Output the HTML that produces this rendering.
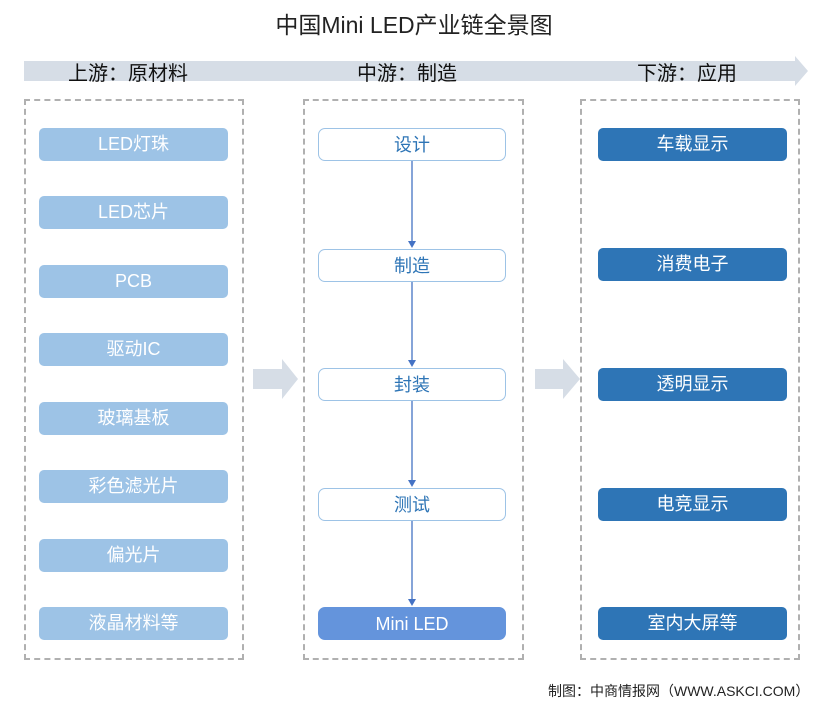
<!DOCTYPE html><html><head><meta charset="utf-8"><style>
body{margin:0;width:828px;height:716px;background:#fff;position:relative;overflow:hidden;font-family:"Liberation Sans","Noto Sans CJK SC",sans-serif}
.a{position:absolute}
.t{font-size:23px;color:#222;left:0;width:828px;text-align:center;top:6px}
.h{font-size:20px;color:#111;top:57px}
.box{border:2px dashed #b0b0b0;box-sizing:border-box}
.p{height:33px;line-height:33px;text-align:center;font-size:18px;border-radius:5px;box-sizing:border-box}
.l{left:39px;width:189px;background:#9dc3e6;color:#fff}
.m{left:318px;width:188px;border:1.5px solid #9dc3e6;color:#2e75b6;background:#fff;border-radius:7px}
.r{left:598px;width:189px;background:#2e75b6;color:#fff}
</style></head><body>
<svg class="a" style="left:0;top:0" width="828" height="716">
<polygon points="24,61 795,61 795,56 808,71 795,86 795,81 24,81" fill="#d6dde6"/>
<polygon points="253,369 282,369 282,359 298,379 282,399 282,389 253,389" fill="#d6dde6"/>
<polygon points="535,369 563,369 563,359 580,379 563,399 563,389 535,389" fill="#d6dde6"/>
<g stroke="#4472c4" stroke-width="1.3" fill="#4472c4">
<line x1="412" y1="161" x2="412" y2="241"/><polygon points="408,241 416,241 412,248" stroke="none"/>
<line x1="412" y1="282" x2="412" y2="360"/><polygon points="408,360 416,360 412,367" stroke="none"/>
<line x1="412" y1="401" x2="412" y2="480"/><polygon points="408,480 416,480 412,487" stroke="none"/>
<line x1="412" y1="521" x2="412" y2="599"/><polygon points="408,599 416,599 412,606" stroke="none"/>
</g></svg>
<div class="a t">中国Mini LED产业链全景图</div>
<div class="a h" style="left:68px">上游：原材料</div>
<div class="a h" style="left:357px">中游：制造</div>
<div class="a h" style="left:637px">下游：应用</div>
<div class="a box" style="left:24px;top:99px;width:220px;height:561px"></div>
<div class="a box" style="left:303px;top:99px;width:221px;height:561px"></div>
<div class="a box" style="left:580px;top:99px;width:220px;height:561px"></div>
<div class="a p l" style="top:128px">LED灯珠</div>
<div class="a p l" style="top:196px">LED芯片</div>
<div class="a p l" style="top:265px">PCB</div>
<div class="a p l" style="top:333px">驱动IC</div>
<div class="a p l" style="top:402px">玻璃基板</div>
<div class="a p l" style="top:470px">彩色滤光片</div>
<div class="a p l" style="top:539px">偏光片</div>
<div class="a p l" style="top:607px">液晶材料等</div>
<div class="a p m" style="top:128px">设计</div>
<div class="a p m" style="top:249px">制造</div>
<div class="a p m" style="top:368px">封装</div>
<div class="a p m" style="top:488px">测试</div>
<div class="a p m" style="top:607px;background:#6494dc;color:#fff;border-color:#6494dc">Mini LED</div>
<div class="a p r" style="top:128px">车载显示</div>
<div class="a p r" style="top:248px">消费电子</div>
<div class="a p r" style="top:368px">透明显示</div>
<div class="a p r" style="top:488px">电竞显示</div>
<div class="a p r" style="top:607px">室内大屏等</div>
<div class="a" style="left:548px;top:681px;font-size:14px;color:#222">制图：中商情报网（WWW.ASKCI.COM）</div>
</body></html>
